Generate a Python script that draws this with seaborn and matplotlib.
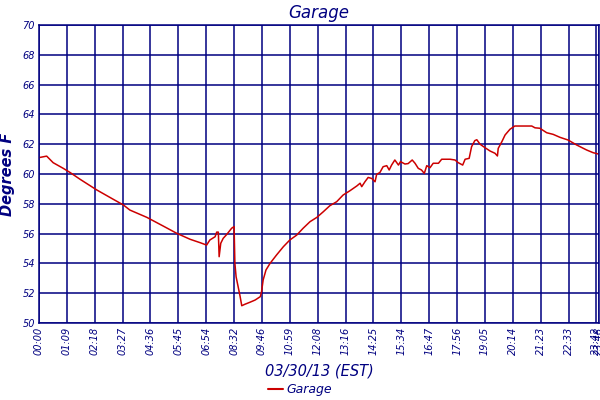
import numpy as np
import pandas as pd
import matplotlib
matplotlib.use("Agg")
import matplotlib.pyplot as plt
from matplotlib.lines import Line2D
import seaborn as sns

# sample index (one tick = 69 samples) and temperature readings
sample_idx = [0, 19, 35, 60, 77, 102, 143, 184, 209, 225, 267, 308, 341, 374, 399, 415,
              423, 436, 440, 444, 446, 450, 456, 465, 477, 483, 485, 488, 493, 498, 502,
              510, 522, 535, 548, 551, 555, 562, 572, 588, 605, 621, 638, 654, 671, 688,
              704, 720, 737, 753, 770, 787, 795, 799, 807, 815, 824, 832, 836, 844, 852,
              861, 867, 873, 881, 890, 895, 906, 914, 924, 931, 939, 947, 954, 960, 968,
              976, 989, 997, 1018, 1030, 1038, 1049, 1055, 1065, 1071, 1079, 1084, 1092,
              1104, 1117, 1129, 1135, 1137, 1146, 1154, 1166, 1178, 1220, 1228, 1240,
              1257, 1273, 1290, 1310, 1331, 1356, 1372, 1385]
temps = [61.1, 61.2, 60.76, 60.38, 60.1, 59.64, 58.93, 58.3, 57.92, 57.58, 57.09, 56.5,
         56.02, 55.62, 55.39, 55.23, 55.57, 55.79, 56.1, 56.1, 54.45, 55.35, 55.68, 55.95,
         56.36, 56.47, 54.0, 53.1, 52.44, 51.77, 51.16, 51.26, 51.39, 51.54, 51.77, 52.1,
         52.89, 53.56, 54.0, 54.56, 55.12, 55.57, 55.9, 56.36, 56.8, 57.09, 57.47, 57.87,
         58.14, 58.59, 58.88, 59.2, 59.38, 59.15, 59.48, 59.77, 59.7, 59.48, 59.98, 60.1,
         60.49, 60.56, 60.27, 60.6, 60.94, 60.6, 60.83, 60.67, 60.7, 60.94, 60.72, 60.38,
         60.27, 60.04, 60.56, 60.42, 60.72, 60.72, 60.99, 60.99, 60.94, 60.76, 60.6, 60.99,
         61.05, 61.83, 62.24, 62.3, 62.0, 61.77, 61.54, 61.39, 61.21, 61.72, 62.17, 62.62,
         63.0, 63.22, 63.22, 63.1, 63.07, 62.77, 62.66, 62.46, 62.28, 61.95, 61.61, 61.43,
         61.34]

tick_labels = ["00:00", "01:09", "02:18", "03:27", "04:36", "05:45", "06:54", "08:32",
               "09:46", "10:59", "12:08", "13:16", "14:25", "15:34", "16:47", "17:56",
               "19:05", "20:14", "21:23", "22:33", "23:42", "23:48"]
tick_idx = [0, 69, 138, 207, 276, 345, 414, 483, 552, 621, 690, 759, 828, 897, 966,
            1035, 1104, 1173, 1242, 1311, 1380, 1386]
y_ticks = [50, 52, 54, 56, 58, 60, 62, 64, 66, 68, 70]

navy = "#000080"
red = "#cc0000"

sns.set_style("white")
plt.rcParams["font.family"] = ["DejaVu Sans"]

df = pd.DataFrame({"idx": sample_idx, "temp": temps, "series": "Garage"})

fig = plt.figure(figsize=(6, 4), dpi=100)
ax = fig.add_axes([0.065, 0.1925, 0.933, 0.745])
sns.lineplot(data=df, x="idx", y="temp", hue="series", palette=[red], lw=1.1, ax=ax,
             legend=False)

ax.set_xlim(0, 1386)
ax.set_ylim(50, 70)
ax.set_xticks(tick_idx)
ax.set_xticklabels(tick_labels, rotation=90, fontsize=7, style="italic", color=navy)
ax.set_yticks(y_ticks)
ax.set_yticklabels([str(v) for v in y_ticks], fontsize=7, style="italic", color=navy)
ax.tick_params(length=0, pad=3)
ax.grid(True, color=navy, lw=1.1)
ax.set_axisbelow(True)
for s in ax.spines.values():
    s.set_color(navy)
    s.set_linewidth(1.1)

ax.set_title("Garage", fontsize=12, style="italic", color=navy, pad=5)
ax.set_xlabel("03/30/13 (EST)", fontsize=10.5, style="italic", color=navy, labelpad=6)
ax.set_ylabel("Degrees F", fontsize=10.5, style="italic", fontweight="bold", color=navy,
              labelpad=5)

h = [Line2D([0], [0], color=red, lw=1.5)]
leg = fig.legend(h, ["Garage"], loc="center", bbox_to_anchor=(0.5, 0.025), frameon=False,
                 handlelength=1.2, handletextpad=0.3,
                 prop={"size": 9, "style": "italic"})
for t in leg.get_texts():
    t.set_color(navy)

fig.savefig("out.png", dpi=100)
